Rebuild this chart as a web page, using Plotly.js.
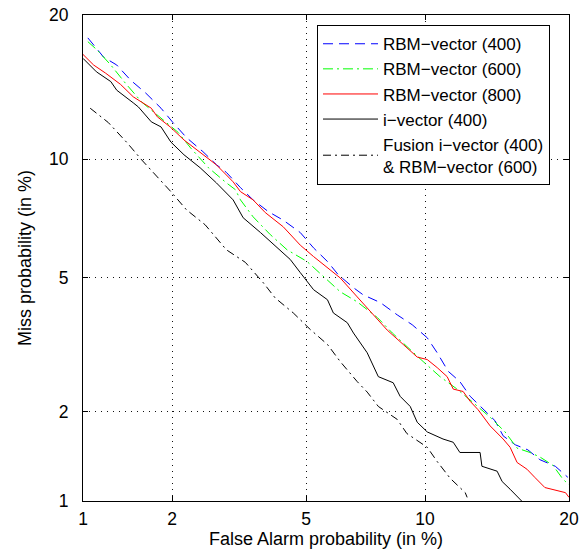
<!DOCTYPE html>
<html>
<head>
<meta charset="utf-8">
<script src="https://cdn.plot.ly/plotly-3.0.1.min.js"></script>
<style>html,body{margin:0;padding:0;background:#fff;}#chart{width:586px;height:549px;}</style>
</head>
<body>
<div id="chart"></div>
<script>
// Tick values (percent)
const tickPercents = [1, 2, 5, 10, 20];
const tickLabels = ["1", "2", "5", "10", "20"];

// RBM-vector (400)
const rbm400_fa   = [1.04,1.18,1.31,1.46,1.64,1.84,2.01,2.22,2.50,2.75,2.95,3.25,3.54,3.92,4.32,4.82,5.24,5.71,6.10,6.68,7.07,7.81,8.59,9.33,10.12,10.67,11.3,12.0,12.64,13.4,14.29,14.85,15.72,16.67,17.6,18.85,19.9];
const rbm400_miss = [18.1,16.6,16.0,14.9,14.0,13.0,12.1,11.2,10.4,9.7,9.3,8.55,7.98,7.46,7.1,6.6,6.02,5.54,5.1,4.7,4.49,4.27,3.94,3.69,3.38,3.05,2.68,2.49,2.24,2.06,1.87,1.67,1.56,1.50,1.39,1.32,1.21];

// RBM-vector (600)
const rbm600_fa   = [1.04,1.12,1.25,1.40,1.59,1.84,2.09,2.29,2.60,2.95,3.14,3.25,3.54,3.97,4.43,5.03,5.58,6.17,6.83,7.68,8.36,9.11,9.9,10.83,11.83,12.83,13.95,14.99,15.86,16.83,17.6,18.65,19.5,20];
const rbm600_miss = [17.8,17.15,16.0,14.7,13.4,12.4,11.5,10.6,9.54,8.78,8.45,7.98,7.24,6.52,5.95,5.54,5.03,4.58,4.29,3.87,3.49,3.16,2.87,2.58,2.36,2.14,1.92,1.72,1.52,1.47,1.42,1.33,1.19,1.14];

// RBM-vector (800)
const rbm800_fa   = [1.0,1.09,1.20,1.35,1.49,1.71,1.79,1.97,2.18,2.45,2.75,3.09,3.25,3.54,3.84,4.32,4.82,5.24,6.17,6.83,7.37,8.12,8.88,9.59,10.12,10.67,11.24,11.6,12.2,12.64,13.15,13.48,13.95,14.85,15.35,15.86,16.6,17.2,18.0,19.7,20];
const rbm800_miss = [16.8,16.0,15.4,14.6,13.75,13.0,12.45,11.83,11.06,10.34,9.69,8.83,8.36,7.98,7.42,6.83,6.12,5.71,5.0,4.43,4.02,3.56,3.23,2.96,2.91,2.75,2.58,2.36,2.32,2.16,2.03,1.93,1.80,1.63,1.53,1.36,1.29,1.21,1.115,1.07,1.03];

// i-vector (400)
const ivec_fa   = [1.0,1.115,1.25,1.31,1.49,1.55,1.71,1.84,1.98,2.18,2.45,2.75,3.09,3.31,3.72,4.13,4.52,4.82,5.24,5.71,5.92,6.44,6.68,7.24,7.72,8.40,8.73,9.23,9.59,10.12,11.0,11.6,12.0,13.28,13.4,14.43,14.78,15.35,15.9,16.2];
const ivec_miss = [16.5,15.5,14.8,14.2,13.35,13.08,12.14,11.83,10.94,10.23,9.54,8.78,7.98,7.2,6.6,6.05,5.61,5.17,4.64,4.35,3.99,3.74,3.49,3.05,2.58,2.47,2.24,2.08,1.85,1.72,1.63,1.59,1.47,1.47,1.32,1.27,1.17,1.10,1.03,1.0];

// Fusion i-vector (400) & RBM-vector (600)
const fusion_fa   = [1.06,1.225,1.42,1.59,1.79,1.98,2.22,2.54,2.95,3.36,3.79,4.10,4.61,5.14,5.71,6.17,6.83,7.24,7.72,8.59,9.06,10.12,10.67,11.42,12.33,12.45];
const fusion_miss = [13.0,12.1,10.9,9.95,9.07,8.36,7.54,6.91,5.95,5.51,4.85,4.40,3.99,3.57,3.23,2.87,2.49,2.31,2.08,1.89,1.70,1.53,1.37,1.2,1.07,1.03];

// Normal deviate (probit) scale used by DET plots
function probit(p){
  const a=[-3.969683028665376e+01,2.209460984245205e+02,-2.759285104469687e+02,1.383577518672690e+02,-3.066479806614716e+01,2.506628277459239e+00];
  const b=[-5.447609879822406e+01,1.615858368580409e+02,-1.556989798598866e+02,6.680131188771972e+01,-1.328068155288572e+01];
  const c=[-7.784894002430293e-03,-3.223964580411365e-01,-2.400758277161838e+00,-2.549732539343734e+00,4.374664141464968e+00,2.938163982698783e+00];
  const d=[7.784695709041462e-03,3.224671290700398e-01,2.445134137142996e+00,3.754408661907416e+00];
  const pl=0.02425, ph=1-pl; let q,r;
  if(p<pl){q=Math.sqrt(-2*Math.log(p));return (((((c[0]*q+c[1])*q+c[2])*q+c[3])*q+c[4])*q+c[5])/((((d[0]*q+d[1])*q+d[2])*q+d[3])*q+1);}
  if(p<=ph){q=p-0.5;r=q*q;return (((((a[0]*r+a[1])*r+a[2])*r+a[3])*r+a[4])*r+a[5])*q/(((((b[0]*r+b[1])*r+b[2])*r+b[3])*r+b[4])*r+1);}
  q=Math.sqrt(-2*Math.log(1-p));return -(((((c[0]*q+c[1])*q+c[2])*q+c[3])*q+c[4])*q+c[5])/((((d[0]*q+d[1])*q+d[2])*q+d[3])*q+1);
}
const pz = arr => arr.map(v => probit(v/100));

const FONT = "Liberation Sans, Arial, Helvetica, sans-serif";

const traces = [
  {x: pz(rbm400_fa), y: pz(rbm400_miss), name: "RBM\u2212vector (400)", mode: "lines",
   line: {color: "#0000ff", width: 1, dash: "10px,6px"}},
  {x: pz(rbm600_fa), y: pz(rbm600_miss), name: "RBM\u2212vector (600)", mode: "lines",
   line: {color: "#00ff00", width: 1, dash: "10px,4px,2px,4px"}},
  {x: pz(rbm800_fa), y: pz(rbm800_miss), name: "RBM\u2212vector (800)", mode: "lines",
   line: {color: "#ff0000", width: 1}},
  {x: pz(ivec_fa), y: pz(ivec_miss), name: "i\u2212vector (400)", mode: "lines",
   line: {color: "#000000", width: 1}},
  {x: pz(fusion_fa), y: pz(fusion_miss), name: "Fusion i\u2212vector (400)<br>& RBM\u2212vector (600)", mode: "lines",
   line: {color: "#000000", width: 1, dash: "8px,4px,2px,4px"}}
];

const axisCommon = {
  tickvals: pz(tickPercents), ticktext: tickLabels,
  ticks: "inside", ticklen: 5, tickcolor: "#000", tickwidth: 1,
  showline: true, linecolor: "#000", linewidth: 1, mirror: "ticks",
  showgrid: true, gridcolor: "#111", gridwidth: 1, griddash: "1px,5px",
  zeroline: false, tickfont: {family: FONT, size: 17.5, color: "#000"},
  fixedrange: true
};

const layout = {
  width: 586, height: 549,
  margin: {l: 83, r: 17, t: 15, b: 48},
  paper_bgcolor: "#fff", plot_bgcolor: "#fff",
  font: {family: FONT, size: 17.5, color: "#000"},
  showlegend: true,
  xaxis: Object.assign({}, axisCommon, {
    range: [probit(0.01), probit(0.20)],
    ticklabelstandoff: 2,
    title: {text: "False Alarm probability (in %)", font: {family: FONT, size: 18, color: "#000"}, standoff: 4}
  }),
  yaxis: Object.assign({}, axisCommon, {
    range: [probit(0.01), probit(0.20)],
    ticklabelstandoff: 10,
    title: {text: "Miss probability (in %)", font: {family: FONT, size: 18, color: "#000"}, standoff: 12}
  }),
  legend: {
    x: 0.4815, y: 0.979, xanchor: "left", yanchor: "top",
    bgcolor: "#fff", bordercolor: "#000", borderwidth: 1,
    font: {family: FONT, size: 17, color: "#000"},
    itemwidth: 55, tracegroupgap: 0
  }
};

Plotly.newPlot("chart", traces, layout, {displayModeBar: false, staticPlot: true});
</script>
</body>
</html>
